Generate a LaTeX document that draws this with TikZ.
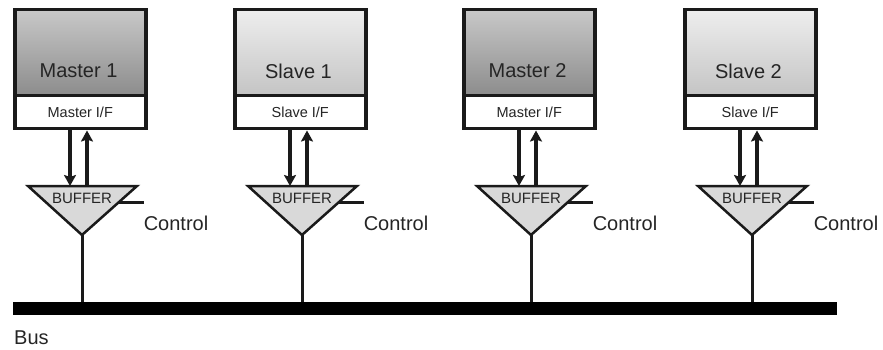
\documentclass[tikz,border=0pt]{standalone}
\usepackage{fontspec}
\setmainfont{Liberation Sans}
\usetikzlibrary{arrows.meta}
\definecolor{txt}{HTML}{252525}
\definecolor{mtop}{HTML}{C8C8C8}
\definecolor{mbot}{HTML}{8C8C8C}
\definecolor{stop}{HTML}{EEEEEE}
\definecolor{sbot}{HTML}{C4C4C4}
\definecolor{buf}{HTML}{D9D9D9}
\definecolor{edge}{HTML}{1A1A1A}
\tikzset{
  unitbox/.style={draw=edge, line width=3.5pt, minimum width=131pt, minimum height=86pt, anchor=north west, inner sep=0pt},
  ifbox/.style={draw=edge, fill=white, line width=3.5pt, minimum width=131pt, minimum height=33pt, anchor=north west, inner sep=0pt, font=\fontsize{14.5}{16}\selectfont, text=txt},
  bigtxt/.style={font=\fontsize{20}{22}\selectfont, text=txt, inner sep=0pt},
  buftxt/.style={font=\fontsize{15}{17}\selectfont, text=txt, inner sep=0pt},
  arr/.style={draw=edge, line width=3.5pt, -{Stealth[length=11pt,width=12pt,inset=2pt]}},
  bufshape/.style={draw=edge, fill=buf, line width=2.5pt, line join=miter},
  wire/.style={draw=edge, line width=3pt}
}
\begin{document}
\begin{tikzpicture}[x=1pt,y=-1pt]
\useasboundingbox (0,0) rectangle (883,350);
\node[fill=black, minimum width=824pt, minimum height=13pt, inner sep=0pt, anchor=north west] (bus) at (13,302) {};
\node[bigtxt, anchor=west] (buslbl) at (14,338) {Bus};
\foreach \i/\L/\nm/\kind/\ct/\cb in {1/13/Master 1/Master/mtop/mbot, 2/233/Slave 1/Slave/stop/sbot, 3/462/Master 2/Master/mtop/mbot, 4/683/Slave 2/Slave/stop/sbot}{
  \node[unitbox, top color=\ct, bottom color=\cb] (box\i) at (\L,8) {};
  \node[bigtxt] (nm\i) at (\L+65.5,71) {\nm};
  \node[ifbox] (if\i) at (\L,94) {\kind\ I/F};
  \coordinate (tl\i) at (\L+15,186);
  \coordinate (tr\i) at (\L+124,186);
  \coordinate (tip\i) at (\L+69,235);
  \path[bufshape] (tl\i) -- (tr\i) -- (tip\i) -- cycle;
  \node[buftxt] (buf\i) at (\L+69,198) {BUFFER};
  \draw[arr] ([xshift=57pt]if\i.south west) -- ([xshift=57pt]if\i.south west |- tl\i);
  \draw[arr] ([xshift=74pt]if\i.south west |- tl\i) -- ([xshift=74pt]if\i.south west);
  \coordinate (cl\i) at (\L+106,202);
  \coordinate (cr\i) at (\L+131,202);
  \draw[wire] (cl\i) -- (cr\i);
  \node[bigtxt] (ctl\i) at (\L+163,223) {Control};
  \draw[wire] (tip\i) -- (tip\i |- bus.north);
}
\end{tikzpicture}
\end{document}
